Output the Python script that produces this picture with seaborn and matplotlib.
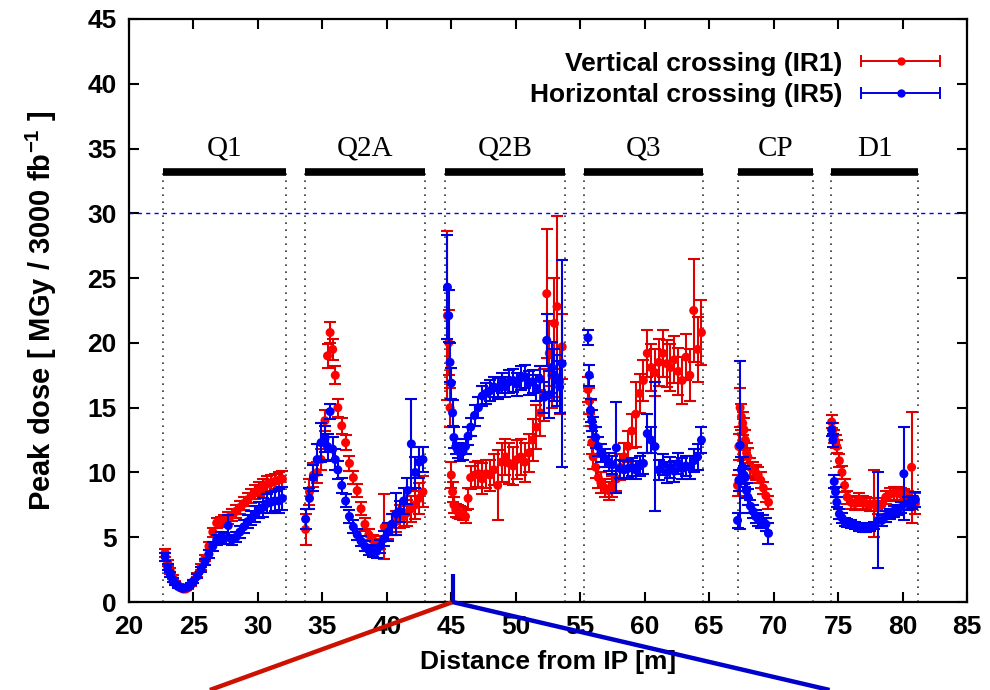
import numpy as np
import pandas as pd
import matplotlib
matplotlib.use("Agg")
import matplotlib.pyplot as plt
import seaborn as sns
from matplotlib.lines import Line2D
from matplotlib.legend_handler import HandlerErrorbar
from matplotlib.container import ErrorbarContainer

# ---------------- data ----------------
section_names = ["Q1", "Q2A", "Q2B", "Q3", "CP", "D1"]
section_start = [22.6, 33.65, 44.5, 55.3, 67.2, 74.45]
section_end = [32.2, 42.95, 53.85, 64.55, 73.05, 81.2]
section_bar_y = 33.2
section_label_y = 35.0
dose_limit = 30.0

q1_x = [22.8, 23.0, 23.2, 23.4, 23.6, 23.8, 24.0, 24.2, 24.4, 24.6,
        24.8, 25.0, 25.3, 25.6, 25.9, 26.2, 26.5, 26.8, 27.1, 27.4,
        27.7, 28.0, 28.3, 28.6, 28.9, 29.2, 29.5, 29.8, 30.1, 30.4,
        30.7, 31.0, 31.3, 31.6, 31.9]
q1_v = [3.8, 3.0, 2.4, 1.9, 1.5, 1.3, 1.1, 1.0, 1.0, 1.1,
        1.3, 1.6, 2.1, 2.7, 3.4, 4.3, 5.4, 6.1, 6.2, 6.3,
        6.5, 6.7, 7.0, 7.3, 7.6, 7.9, 8.2, 8.5, 8.7, 8.9,
        9.1, 9.2, 9.3, 9.4, 9.5]
q1_v_err = [0.3, 0.25, 0.2, 0.15, 0.12, 0.1, 0.1, 0.1, 0.1, 0.1,
            0.1, 0.12, 0.15, 0.2, 0.25, 0.3, 0.35, 0.4, 0.4, 0.4,
            0.45, 0.45, 0.5, 0.5, 0.5, 0.5, 0.55, 0.55, 0.55, 0.6,
            0.6, 0.6, 0.6, 0.6, 0.6]
q1_h = [3.5, 2.7, 2.1, 1.7, 1.4, 1.2, 1.1, 1.05, 1.1, 1.2,
        1.4, 1.6, 2.0, 2.5, 3.1, 3.7, 4.3, 4.8, 5.0, 4.9,
        5.9, 4.8, 5.0, 5.4, 5.8, 6.2, 6.5, 6.8, 7.1, 7.3,
        7.6, 7.7, 7.8, 7.8, 8.0]
q1_h_err = [0.3, 0.25, 0.2, 0.15, 0.12, 0.1, 0.1, 0.1, 0.1, 0.1,
            0.1, 0.12, 0.15, 0.2, 0.25, 0.3, 0.35, 0.4, 0.4, 0.4,
            0.8, 0.4, 0.4, 0.45, 0.5, 0.5, 0.55, 0.6, 0.6, 0.7,
            0.7, 0.8, 0.8, 0.9, 0.9]

q2a_x = [33.7, 34.0, 34.3, 34.6, 34.9, 35.2, 35.4, 35.6, 35.8, 36.0,
         36.2, 36.5, 36.8, 37.1, 37.4, 37.7, 38.0, 38.3, 38.6, 38.9,
         39.2, 39.5, 39.8, 40.1, 40.4, 40.7, 41.0, 41.3, 41.6, 41.9,
         42.2, 42.5, 42.8]
q2a_v = [5.6, 8.5, 9.8, 10.0, 11.0, 14.0, 19.0, 20.8, 19.5, 17.5,
         15.0, 13.6, 12.3, 10.7, 9.6, 8.6, 7.2, 6.0, 5.2, 4.8,
         4.5, 4.6, 5.8, 5.5, 6.0, 6.2, 6.6, 6.6, 6.9, 7.2,
         7.5, 8.0, 8.5]
q2a_v_err = [1.2, 1.0, 0.9, 0.8, 0.8, 0.8, 0.9, 0.8, 0.8, 0.7,
             0.7, 0.6, 0.6, 0.6, 0.5, 0.5, 0.5, 0.5, 0.4, 0.4,
             0.4, 0.5, 2.5, 0.6, 0.8, 0.8, 0.9, 0.8, 1.0, 1.0,
             1.1, 1.2, 1.2]
q2a_h = [6.4, 8.0, 9.6, 11.0, 12.3, 12.6, 12.0, 14.7, 11.8, 11.0,
         10.2, 9.0, 7.8, 6.6, 5.8, 5.2, 4.7, 4.3, 4.0, 3.9,
         3.9, 4.3, 4.9, 5.4, 6.0, 6.8, 7.0, 7.8, 8.6, 12.2,
         10.0, 10.8, 11.0]
q2a_h_err = [0.8, 0.8, 1.0, 1.2, 1.5, 1.0, 1.0, 0.6, 0.9, 0.8,
             0.7, 0.6, 0.5, 0.5, 0.5, 0.4, 0.4, 0.4, 0.4, 0.4,
             0.5, 0.5, 0.6, 0.7, 0.8, 1.6, 0.8, 1.0, 1.0, 3.5,
             1.2, 1.2, 1.0]

q2b_x = [44.7, 44.8, 44.9, 45.0, 45.1, 45.2, 45.35, 45.5, 45.7, 45.9,
         46.1, 46.3, 46.5, 46.8, 47.1, 47.4, 47.7, 48.0, 48.3, 48.6,
         48.9, 49.2, 49.5, 49.8, 50.1, 50.4, 50.7, 51.0, 51.3, 51.6,
         51.9, 52.2, 52.4, 52.6, 52.8, 53.0, 53.2, 53.4, 53.6]
q2b_v = [22.1, 20.0, 15.0, 9.8, 8.5, 7.5, 7.1, 7.0, 6.9, 6.8,
         6.6, 8.0, 9.6, 9.8, 9.9, 9.5, 9.9, 9.8, 10.2, 9.0,
         10.8, 11.2, 10.7, 10.5, 11.0, 11.2, 10.8, 11.5, 12.5, 13.5,
         14.6, 16.0, 23.8, 19.2, 17.5, 21.5, 22.8, 17.0, 19.7]
q2b_v_err = [6.5, 2.5, 1.5, 1.0, 0.8, 0.6, 0.5, 0.5, 0.5, 0.5,
             0.5, 0.8, 0.9, 1.0, 1.0, 1.2, 1.1, 1.2, 1.2, 2.7,
             1.5, 1.4, 1.6, 1.5, 1.5, 1.4, 1.5, 1.5, 1.6, 1.7,
             1.8, 2.0, 5.0, 2.5, 2.5, 3.5, 7.0, 2.5, 2.5]
q2b_h = [24.3, 22.1, 18.5, 16.9, 14.6, 12.7, 12.0, 11.7, 11.5, 11.6,
         12.0, 12.8, 13.5, 14.4, 15.0, 15.9, 16.1, 16.3, 16.6, 16.5,
         16.9, 16.6, 17.0, 17.1, 16.8, 17.3, 17.4, 16.9, 17.0, 16.5,
         17.2, 15.8, 20.2, 16.0, 18.1, 17.5, 17.1, 16.6, 18.4]
q2b_h_err = [4.0, 2.0, 1.5, 1.2, 1.0, 0.8, 0.6, 0.6, 0.6, 0.6,
             0.6, 0.7, 0.7, 0.8, 0.8, 0.8, 0.8, 0.8, 0.8, 0.8,
             0.8, 0.8, 0.9, 0.9, 0.9, 0.9, 0.9, 0.9, 0.9, 1.0,
             1.0, 1.2, 2.0, 1.8, 2.0, 2.0, 2.0, 2.0, 8.0]

q3_x = [55.6, 55.7, 55.8, 55.9, 56.0, 56.2, 56.4, 56.6, 56.9, 57.2,
        57.5, 57.8, 58.1, 58.4, 58.7, 59.0, 59.3, 59.6, 59.9, 60.2,
        60.5, 60.8, 61.1, 61.4, 61.7, 62.0, 62.3, 62.6, 62.9, 63.2,
        63.5, 63.8, 64.1, 64.4]
q3_v = [16.4, 15.5, 14.6, 12.3, 11.2, 10.4, 9.6, 9.2, 8.8, 8.6,
        8.9, 9.5, 10.4, 11.2, 12.0, 13.2, 14.5, 16.1, 17.1, 19.2,
        18.1, 17.7, 18.5, 19.2, 18.4, 18.1, 18.7, 17.8, 17.1, 18.9,
        17.5, 22.5, 19.5, 20.8]
q3_v_err = [1.0, 1.0, 1.0, 0.9, 0.9, 0.8, 0.8, 0.8, 0.7, 0.7,
            0.8, 0.9, 1.0, 1.1, 1.2, 1.3, 2.5, 1.5, 1.6, 1.8,
            1.8, 1.8, 1.8, 1.8, 1.8, 1.8, 1.8, 1.8, 1.8, 1.8,
            2.0, 4.0, 2.5, 2.5]
q3_h = [20.4, 17.5, 14.8, 14.0, 13.5, 12.7, 12.0, 11.5, 11.1, 10.8,
        10.6, 11.9, 10.3, 10.2, 10.3, 10.4, 10.2, 10.5, 10.7, 13.0,
        12.5, 12.0, 10.2, 10.6, 10.0, 10.4, 10.1, 10.7, 10.3, 10.5,
        10.4, 10.9, 11.2, 12.5]
q3_h_err = [0.6, 0.8, 0.9, 0.8, 0.8, 0.8, 0.7, 0.7, 0.7, 0.7,
            0.7, 3.5, 0.7, 0.7, 0.7, 0.7, 0.7, 0.8, 0.8, 1.5,
            1.0, 5.0, 0.8, 0.8, 0.8, 0.8, 0.8, 0.8, 0.8, 0.8,
            0.9, 0.9, 1.0, 1.0]

cp_x = [67.2, 67.3, 67.4, 67.5, 67.6, 67.7, 67.8, 67.9, 68.0, 68.2,
        68.4, 68.6, 68.8, 69.0, 69.2, 69.4, 69.6]
cp_v = [9.0, 12.0, 15.0, 14.3, 13.8, 13.3, 12.5, 11.5, 11.2, 10.4,
        10.2, 10.0, 9.8, 9.4, 8.8, 8.2, 7.7]
cp_v_err = [0.8, 1.0, 1.5, 1.0, 0.9, 0.9, 0.8, 0.8, 0.7, 0.7,
            0.6, 0.6, 0.6, 0.6, 0.5, 0.5, 0.5]
cp_h = [6.3, 9.4, 12.1, 10.2, 10.4, 9.8, 9.6, 8.6, 8.1, 7.4,
        7.0, 6.6, 6.4, 6.2, 6.2, 6.0, 5.3]
cp_h_err = [0.6, 0.8, 6.5, 1.0, 0.8, 0.7, 0.7, 0.6, 0.6, 0.5,
            0.5, 0.5, 0.5, 0.5, 0.5, 0.5, 0.8]

d1_x = [74.5, 74.6, 74.7, 74.8, 74.9, 75.1, 75.3, 75.5, 75.7, 76.0,
        76.3, 76.6, 76.9, 77.2, 77.5, 77.8, 78.1, 78.4, 78.7, 79.0,
        79.3, 79.6, 79.9, 80.1, 80.4, 80.7, 81.0]
d1_v = [13.9, 13.3, 12.8, 12.4, 12.0, 10.9, 10.0, 9.0, 8.1, 7.7,
        7.6, 7.9, 7.7, 7.6, 7.5, 7.6, 7.3, 7.5, 8.1, 8.3,
        8.4, 8.4, 8.3, 8.2, 8.1, 10.4, 7.6]
d1_v_err = [0.5, 0.5, 0.5, 0.5, 0.5, 0.5, 0.5, 0.5, 0.5, 0.5,
            0.5, 0.5, 0.5, 0.5, 0.5, 2.6, 0.5, 0.5, 0.5, 0.5,
            0.5, 0.5, 0.5, 0.5, 0.5, 4.3, 0.8]
d1_h = [13.3, 12.5, 9.3, 8.5, 7.7, 6.8, 6.5, 6.2, 6.1, 6.0,
        5.9, 5.8, 5.7, 5.7, 5.8, 5.9, 6.3, 6.3, 6.6, 6.8,
        7.0, 7.1, 7.3, 9.9, 7.6, 7.7, 7.9]
d1_h_err = [0.5, 0.5, 0.5, 0.4, 0.4, 0.4, 0.4, 0.3, 0.3, 0.3,
            0.3, 0.3, 0.3, 0.3, 0.3, 0.3, 3.7, 0.4, 0.4, 0.4,
            0.4, 0.4, 0.4, 3.6, 0.5, 0.5, 0.6]

series_labels = ["Vertical crossing (IR1)", "Horizontal crossing (IR5)"]

# ---------------- table ----------------
parts = [
    (q1_x, q1_v, q1_v_err, q1_h, q1_h_err),
    (q2a_x, q2a_v, q2a_v_err, q2a_h, q2a_h_err),
    (q2b_x, q2b_v, q2b_v_err, q2b_h, q2b_h_err),
    (q3_x, q3_v, q3_v_err, q3_h, q3_h_err),
    (cp_x, cp_v, cp_v_err, cp_h, cp_h_err),
    (d1_x, d1_v, d1_v_err, d1_h, d1_h_err),
]
rows = []
for x, v, ve, h, he in parts:
    for xi, yi, ei in zip(x, v, ve):
        rows.append((xi, yi, ei, series_labels[0]))
    for xi, yi, ei in zip(x, h, he):
        rows.append((xi, yi, ei, series_labels[1]))
df = pd.DataFrame(rows, columns=["x", "dose", "err", "series"])

# ---------------- style ----------------
sns.set_style("ticks")
plt.rcParams["font.family"] = ["Liberation Sans", "DejaVu Sans"]
plt.rcParams["font.weight"] = "bold"
plt.rcParams["axes.labelweight"] = "bold"
plt.rcParams["text.color"] = "black"
plt.rcParams["axes.labelcolor"] = "black"
plt.rcParams["xtick.color"] = "black"
plt.rcParams["ytick.color"] = "black"
plt.rcParams["mathtext.fontset"] = "custom"
plt.rcParams["mathtext.rm"] = "Liberation Sans:bold"
plt.rcParams["mathtext.it"] = "Liberation Sans:bold"
plt.rcParams["mathtext.bf"] = "Liberation Sans:bold"
plt.rcParams["mathtext.default"] = "rm"

FS = 19
colors = {series_labels[0]: "#ff0000", series_labels[1]: "#0000ff"}
ecolors = {series_labels[0]: "#e00000", series_labels[1]: "#0000e0"}

fig = plt.figure(figsize=(9.9, 6.9), dpi=100)
ax = fig.add_axes([0.1303, 0.1275, 0.8465, 0.845])
ax.set_xlim(20, 85)
ax.set_ylim(0, 45)

# magnet sections
for name, s, e in zip(section_names, section_start, section_end):
    ax.vlines([s, e], 0, section_bar_y, colors="#333333", linewidth=1.2,
              linestyles=(0, (1, 3.2)), zorder=1)
    ax.hlines(section_bar_y, s, e, colors="black", linewidth=5.5, zorder=2)
    ax.text((s + e) / 2, section_label_y, name, ha="center", va="center",
            fontsize=21, fontfamily=["Liberation Serif", "DejaVu Serif"],
            fontweight="normal", color="black")

ax.axhline(dose_limit, color="#0000ff", linewidth=1.0, linestyle=(0, (3, 3)), zorder=1)

# data
for i, lab in enumerate(series_labels):
    sub = df[df["series"] == lab]
    ax.errorbar(sub["x"], sub["dose"], yerr=sub["err"], fmt="none",
                ecolor=ecolors[lab], elinewidth=1.5, capsize=4, capthick=1.5,
                zorder=3 + 2 * i)
    sns.scatterplot(data=sub, x="x", y="dose", color=colors[lab], s=42,
                    linewidth=0, edgecolor="none", legend=False, ax=ax,
                    zorder=4 + 2 * i)

# legend (gnuplot-like horizontal error-bar sample)
handles = []
for lab in series_labels:
    h = ax.errorbar([np.nan], [np.nan], xerr=[1], fmt="o", color=colors[lab],
                    ecolor=ecolors[lab], ms=5, elinewidth=1.4, capsize=4,
                    capthick=1.4, label=lab)
    handles.append(h)
leg = ax.legend(handles=handles, labels=series_labels, loc="upper right",
                bbox_to_anchor=(0.968, 0.944), frameon=False, markerfirst=False,
                fontsize=FS, handlelength=3.0, handletextpad=0.7, labelspacing=0.27,
                borderpad=0, borderaxespad=0,
                handler_map={ErrorbarContainer: HandlerErrorbar(xerr_size=1.5)})
for t in leg.get_texts():
    t.set_color("black")
    t.set_fontweight("bold")

# axes cosmetics
ax.set_xticks(np.arange(20, 86, 5))
ax.set_yticks(np.arange(0, 46, 5))
ax.tick_params(direction="in", length=7, width=1.5, top=True, right=True,
               labelsize=FS, pad=9, colors="black")
for lbl in ax.get_xticklabels() + ax.get_yticklabels():
    lbl.set_fontweight("bold")
for sp in ax.spines.values():
    sp.set_linewidth(1.6)
    sp.set_color("black")
ax.set_xlabel("Distance from IP [m]", fontsize=FS, fontweight="bold", labelpad=8)
ax.set_ylabel(r"Peak dose [ MGy / 3000 fb$^{-1}$ ]", fontsize=21,
              fontweight="bold", labelpad=20)

# zoom-indicator lines below the axis
apex_x_data = 45.1
fig.canvas.draw()
apex = fig.transFigure.inverted().transform(ax.transData.transform((apex_x_data, 0)))
fig.add_artist(Line2D([apex[0], 0.212], [apex[1], 0.0], transform=fig.transFigure,
                      color="#cc1100", linewidth=3.2, solid_capstyle="butt"))
fig.add_artist(Line2D([apex[0], 0.838], [apex[1], 0.0], transform=fig.transFigure,
                      color="#0000cc", linewidth=3.2, solid_capstyle="butt"))
fig.add_artist(Line2D([apex[0], apex[0]], [apex[1], apex[1] + 0.04],
                      transform=fig.transFigure, color="#0000cc", linewidth=3.0,
                      solid_capstyle="butt"))

fig.savefig("out.png", dpi=100)
